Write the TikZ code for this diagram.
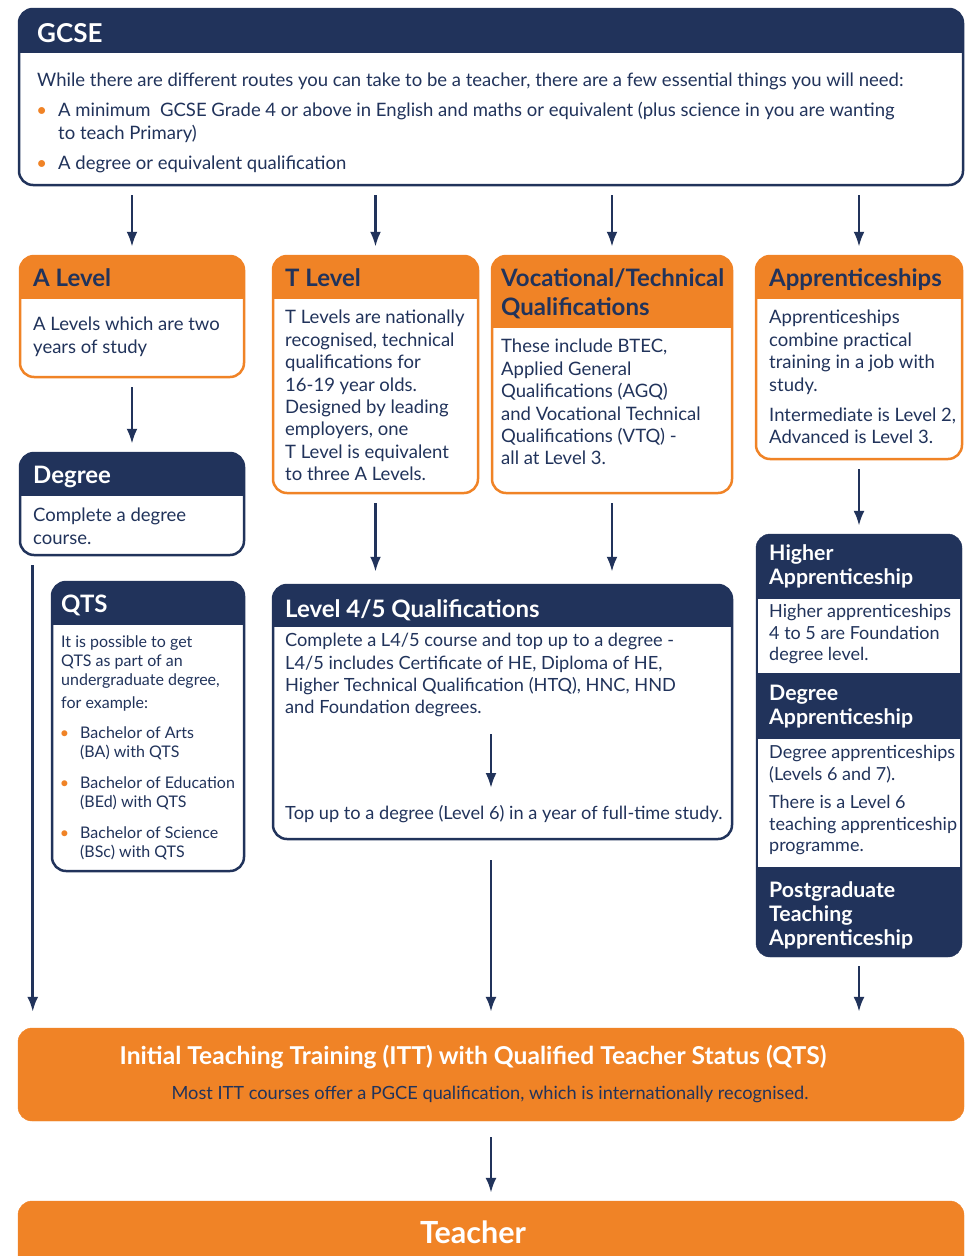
\documentclass[tikz,border=0pt]{standalone}
\usepackage{fontspec}
\setmainfont{Lato}
\usetikzlibrary{arrows.meta,calc}
\definecolor{navy}{HTML}{21335B}
\definecolor{orng}{HTML}{F08326}
\newcommand{\itm}[1]{\hspace*{#1}\llap{\textcolor{orng}{\textbullet}\hspace{11pt}}}

\begin{document}
\begin{tikzpicture}[x=1pt, y=-1pt, >={Latex[length=15pt,width=11pt]},
  card/.style 2 args={draw=#1, line width=2.5pt, rounded corners=14pt, fill=white, inner sep=0pt,
    path picture={\fill[#1, sharp corners] (path picture bounding box.north west) rectangle ([yshift=-#2]path picture bounding box.north east);}},
  plain/.style={fill=#1, draw=#1, rounded corners=14pt, inner sep=0pt},
  head/.style={anchor=north west, inner sep=0pt, align=left, font=\fontsize{24}{29}\selectfont\bfseries},
  body/.style={anchor=north west, inner sep=0pt, align=left, text=navy, font=\fontsize{18.5}{22.4}\selectfont},
  link/.style={->, draw=navy, line width=2.6pt, shorten <=9pt, shorten >=8pt}]
  \useasboundingbox (0,0) rectangle (975,1256);

  % Boxes
  \node[card={navy}{44pt}, minimum width=944pt, minimum height=176pt] (gcse) at (491,97) {};
  \node[card={orng}{43pt}, minimum width=224pt, minimum height=121pt] (alevel) at (132,316.5) {};
  \node[card={orng}{43pt}, minimum width=205pt, minimum height=237pt] (tlevel) at (375.5,374.5) {};
  \node[card={orng}{72pt}, minimum width=240pt, minimum height=237pt] (voc) at (612,374.5) {};
  \node[card={orng}{43pt}, minimum width=206pt, minimum height=203pt] (appr) at (859,357.5) {};
  \node[card={navy}{43pt}, minimum width=224pt, minimum height=102pt] (degree) at (132,504) {};
  \node[card={navy}{43pt}, minimum width=192pt, minimum height=289pt] (qts) at (148,726.5) {};
  \node[card={navy}{42pt}, minimum width=459pt, minimum height=254pt] (l45) at (502.5,712) {};
  \node[plain=navy, minimum width=206pt, minimum height=423pt] (stack) at (859,745.5) {};
  \node[fill=white, inner sep=0pt, minimum width=202pt, minimum height=74pt] (hapanel) at (859,636) {};
  \node[fill=white, inner sep=0pt, minimum width=202pt, minimum height=128pt] (dapanel) at (859,803) {};
  \node[plain=orng, minimum width=946pt, minimum height=93pt] (itt) at (491,1074.5) {};
  \node[plain=orng, minimum width=946pt, minimum height=89pt] (teacher) at (491,1245.5) {};

  % GCSE
  \node[head, text=white, font=\fontsize{26}{30}\selectfont\bfseries] (gcsehead) at (37,23) {GCSE};
  \node[body] (gcsetext) at (37,73) {While there are different routes you can take to be a teacher, there are a few essential things you will need:\\[7.6pt]
    \itm{21pt}A minimum~ GCSE Grade 4 or above in English and maths or equivalent (plus science in you are wanting\\
    \hspace*{21pt}to teach Primary)\\[7.6pt]
    \itm{21pt}A degree or equivalent qualification};

  % Routes
  \node[head, text=navy] (alevelhead) at (33,268) {A Level};
  \node[body] (aleveltext) at (33,317) {A Levels which are two\\years of study};
  \node[head, text=navy] (tlevelhead) at (285,268) {T Level};
  \node[body] (tleveltext) at (285,310) {T Levels are nationally\\recognised, technical\\qualifications for\\16-19 year olds.\\Designed by leading\\employers, one\\T Level is equivalent\\to three A Levels.};
  \node[head, text=navy] (vochead) at (501,268) {Vocational/Technical\\Qualifications};
  \node[body] (voctext) at (501,339) {These include BTEC,\\Applied General\\Qualifications (AGQ)\\and Vocational Technical\\Qualifications (VTQ) -\\all at Level 3.};
  \node[head, text=navy] (apprhead) at (769,268) {Apprenticeships};
  \node[body] (apprtext) at (769,310) {Apprenticeships\\combine practical\\training in a job with\\study.\\[7.6pt]Intermediate is Level 2,\\Advanced is Level 3.};

  \node[head, text=white] (degreehead) at (33,466) {Degree};
  \node[body] (degreetext) at (33,508) {Complete a degree\\course.};

  % QTS
  \node[head, text=white] (qtshead) at (61,595) {QTS};
  \node[body, font=\fontsize{16}{19}\selectfont] (qtstext) at (61,635.5) {It is possible to get\\QTS as part of an\\undergraduate degree,\\[4pt]for example:\\[11pt]
    \itm{19pt}Bachelor of Arts\\\hspace*{19pt}(BA) with QTS\\[12pt]
    \itm{19pt}Bachelor of Education\\\hspace*{19pt}(BEd) with QTS\\[12pt]
    \itm{19pt}Bachelor of Science\\\hspace*{19pt}(BSc) with QTS};

  % Level 4/5
  \node[head, text=white] (l45head) at (285,599) {Level 4/5 Qualifications};
  \node[body, font=\fontsize{18.2}{22.4}\selectfont] (l45text) at (285,633) {Complete a L4/5 course and top up to a degree -\\L4/5 includes Certificate of HE, Diploma of HE,\\Higher Technical Qualification (HTQ), HNC, HND\\and Foundation degrees.};
  \node[body, font=\fontsize{18.2}{22.4}\selectfont] (l45top) at (285,805) {Top up to a degree (Level 6) in a year of full-time study.};

  % Apprenticeship stack
  \node[head, text=white, font=\fontsize{21.3}{24}\selectfont\bfseries] (hahead) at (769,544) {Higher\\Apprenticeship};
  \node[body, font=\fontsize{18}{21.6}\selectfont] (hatext) at (769,604) {Higher apprenticeships\\4 to 5 are Foundation\\degree level.};
  \node[head, text=white, font=\fontsize{21.3}{24}\selectfont\bfseries] (dahead) at (769,685) {Degree\\Apprenticeship};
  \node[body, font=\fontsize{18}{21.6}\selectfont] (datext) at (769,745) {Degree apprenticeships\\(Levels 6 and 7).\\[7pt]There is a Level 6\\teaching apprenticeship\\programme.};
  \node[head, text=white, font=\fontsize{21.3}{24}\selectfont\bfseries] (ptahead) at (769,881) {Postgraduate\\Teaching\\Apprenticeship};

  % ITT and Teacher
  \node[text=white, font=\fontsize{24.6}{28}\selectfont\bfseries] (itthead) at (473,1057) {Initial Teaching Training (ITT) with Qualified Teacher Status (QTS)};
  \node[text=navy, font=\fontsize{18.2}{21}\selectfont] (itttext) at (490,1094) {Most ITT courses offer a PGCE qualification, which is internationally recognised.};
  \node[text=white, font=\fontsize{30.5}{34}\selectfont\bfseries] (teacherhead) at (473,1232) {Teacher};

  % Arrows
  \draw[link] (gcse.south -| alevel.north) -- (alevel.north);
  \draw[link] (gcse.south -| tlevel.north) -- (tlevel.north);
  \draw[link] (gcse.south -| voc.north) -- (voc.north);
  \draw[link] (gcse.south -| appr.north) -- (appr.north);
  \draw[link] (alevel.south) -- (degree.north);
  \draw[link, shorten >=12pt] (tlevel.south) -- (tlevel.south |- l45.north);
  \draw[link, shorten >=12pt] (voc.south) -- (voc.south |- l45.north);
  \draw[link] (appr.south) -- (stack.north);
  \draw[link, shorten <=17pt, shorten >=17pt] (l45text.south -| itt.north) -- (l45top.north -| itt.north);
  \draw[link, shorten >=16pt] ([xshift=14pt]degree.south west) -- ([xshift=14pt]degree.south west |- itt.north);
  \draw[link, shorten <=20pt, shorten >=16pt] (l45.south -| itt.north) -- (itt.north);
  \draw[link, shorten >=16pt] (stack.south) -- (stack.south |- itt.north);
  \draw[link, shorten <=16pt] (itt.south) -- (teacher.north);
\end{tikzpicture}
\end{document}
